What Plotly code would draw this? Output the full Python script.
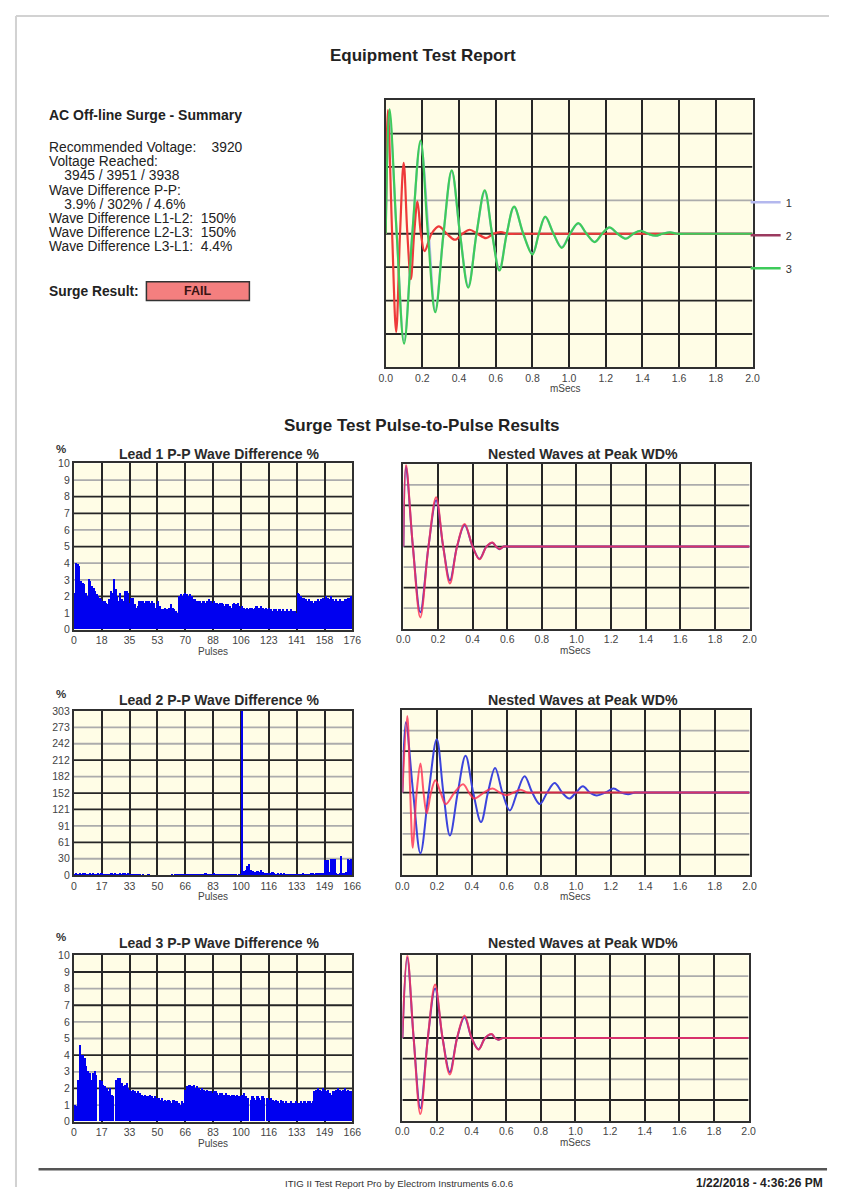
import plotly.graph_objects as go

# The page keeps the browser's default 8px body margin, so the figure is drawn 16px smaller and
# every reference pixel position is converted with that offset.
PAGE_W, PAGE_H = 846, 1201
OFF = 8
W, H = PAGE_W - 2 * OFF, PAGE_H - 2 * OFF
FONT = "Liberation Sans, Arial, sans-serif"

# ---------------- text ----------------
report_title = "Equipment Test Report"
section_title = "Surge Test Pulse-to-Pulse Results"
summary_heading = "AC Off-line Surge - Summary"
summary_lines = [
    "Recommended Voltage:\u00a0\u00a0\u00a0 3920",
    "Voltage Reached:",
    "\u00a0\u00a0\u00a0 3945 / 3951 / 3938",
    "Wave Difference P-P:",
    "\u00a0\u00a0\u00a0 3.9% / 302% / 4.6%",
    "Wave Difference L1-L2:\u00a0 150%",
    "Wave Difference L2-L3:\u00a0 150%",
    "Wave Difference L3-L1:\u00a0 4.4%",
]
result_label = "Surge Result:"
result_value = "FAIL"
footer_text = "ITIG II Test Report Pro by Electrom Instruments 6.0.6"
footer_date = "1/22/2018 - 4:36:26 PM"
lead_titles = ["Lead 1 P-P Wave Difference %", "Lead 2 P-P Wave Difference %", "Lead 3 P-P Wave Difference %"]
nested_title = "Nested Waves at Peak WD%"

# ---------------- top chart: surge waves (mSecs) ----------------
top_names = ["1", "2", "3"]
top_t1 = [0, 0.02, 0.06, 0.10, 0.145, 0.19, 0.235, 0.27, 0.315, 0.36, 0.405, 0.45, 0.495, 0.54, 0.58, 0.62,
          0.66, 0.70, 0.75, 0.80, 0.835, 0.87, 0.915, 0.96, 1.005, 1.05, 1.095, 1.14, 1.18, 1.22, 1.265,
          1.31, 1.35, 1.39, 1.43, 1.47, 1.51, 1.55, 1.59, 1.63, 2.0]
top_v1 = [0, 3.6, 0, -3.2, 0, 2.7, 0, -2.3, 0, 1.85, 0, -1.55, 0, 1.25, 0, -1.05, 0, 0.8, 0, -0.6, 0,
          0.5, 0, -0.4, 0, 0.3, 0, -0.24, 0, 0.18, 0, -0.14, 0, 0.09, 0, -0.06, 0, 0.04, 0, 0, 0]
top_t2 = [0, 0.012, 0.035, 0.057, 0.078, 0.098, 0.118, 0.137, 0.155, 0.173, 0.192, 0.212, 0.25, 0.289,
          0.333, 0.378, 0.418, 0.458, 0.50, 0.547, 0.587, 0.627, 0.67, 0.71, 2.0]
top_v2 = [0, 3.7, 0, -2.94, 0, 2.12, 0, -1.36, 0, 0.96, 0, -0.52, 0, 0.22, 0, -0.18, 0, 0.12, 0,
          -0.13, 0, 0.05, 0, 0, 0]
top_t3 = [0, 0.021, 0.06, 0.10, 0.145, 0.19, 0.23, 0.27, 0.315, 0.36, 0.405, 0.45, 0.495, 0.54, 0.58,
          0.62, 0.66, 0.70, 0.75, 0.80, 0.835, 0.87, 0.915, 0.96, 1.005, 1.05, 1.095, 1.14, 1.18, 1.22,
          1.265, 1.31, 1.35, 1.39, 1.43, 1.47, 1.51, 1.55, 1.59, 1.63, 2.0]
top_v3 = [0, 3.72, 0, -3.29, 0, 2.79, 0, -2.35, 0, 1.9, 0, -1.61, 0, 1.3, 0, -1.1, 0, 0.81, 0, -0.62,
          0, 0.51, 0, -0.42, 0, 0.32, 0, -0.25, 0, 0.19, 0, -0.15, 0, 0.09, 0, -0.06, 0, 0.04, 0, 0, 0]
msec_ticks = ["0.0", "0.2", "0.4", "0.6", "0.8", "1.0", "1.2", "1.4", "1.6", "1.8", "2.0"]

# ---------------- pulse-to-pulse wave difference % ----------------
lead1_wd = [2.2, 4.0, 3.9, 3.8, 2.9, 2.8, 2.7, 2.2, 2.0, 3.0,
            2.9, 2.6, 2.5, 2.3, 2.1, 2.0, 1.9, 1.8, 1.7, 1.7,
            1.6, 1.5, 1.8, 2.3, 2.2, 3.0, 2.4, 2.0, 1.7, 2.2,
            1.8, 1.7, 2.3, 2.3, 2.2, 1.6, 1.9, 1.9, 1.5, 1.3,
            1.4, 1.7, 1.7, 1.7, 1.6, 1.7, 1.7, 1.7, 1.6, 1.7,
            1.6, 1.3, 1.5, 1.7, 1.4, 1.2, 1.2, 1.3, 1.2, 1.2,
            1.3, 1.5, 1.3, 1.2, 1.1, 1.0, 2.0, 2.1, 2.0, 2.1,
            2.2, 2.1, 2.0, 2.1, 2.0, 1.8, 1.8, 1.7, 1.7, 1.7,
            1.6, 1.7, 1.7, 1.6, 1.7, 1.8, 1.7, 1.6, 1.7, 1.6,
            1.6, 1.5, 1.6, 1.6, 1.5, 1.4, 1.5, 1.5, 1.4, 1.3,
            1.5, 1.6, 1.5, 1.6, 1.4, 1.3, 1.4, 1.3, 1.2, 1.3,
            1.2, 1.3, 1.3, 1.2, 1.3, 1.4, 1.3, 1.3, 1.4, 1.3,
            1.2, 1.3, 1.2, 1.3, 1.2, 1.1, 1.2, 1.2, 1.1, 1.2,
            1.2, 1.1, 1.2, 1.1, 1.2, 1.1, 1.1, 1.2, 1.1, 1.1,
            1.0, 2.2, 2.1, 2.0, 1.9, 1.9, 1.8, 1.7, 1.8, 1.7,
            1.7, 1.6, 1.7, 1.7, 1.8, 1.7, 1.8, 1.9, 1.8, 2.0,
            1.9, 1.8, 2.0, 1.8, 1.7, 1.8, 1.7, 1.7, 1.8, 1.7,
            1.7, 1.8, 1.8, 1.9, 1.9, 2.0]
lead2_wd = [1, 4, 3, 4, 3, 4, 4, 3, 3, 4,
            3, 4, 3, 3, 4, 3, 4, 2, 1, 1,
            3, 3, 4, 3, 4, 3, 3, 4, 3, 4,
            4, 3, 4, 3, 3, 2, 3, 2, 3, 1,
            0, 1, 0, 0, 1, 0, 0, 0, 0, 0,
            0, 0, 0, 0, 0, 0, 0, 0, 1, 0,
            2, 3, 3, 2, 3, 3, 2, 3, 3, 2,
            3, 3, 2, 3, 3, 2, 3, 3, 4, 3,
            3, 2, 3, 4, 2, 3, 1, 2, 3, 2,
            1, 2, 3, 1, 2, 1, 2, 0, 1, 1,
            303, 8, 10, 17, 20, 9, 8, 7, 7, 8,
            6, 9, 7, 5, 5, 4, 5, 4, 6, 4,
            3, 4, 3, 5, 3, 4, 3, 3, 2, 3,
            3, 2, 3, 3, 2, 3, 4, 3, 3, 2,
            3, 4, 4, 3, 4, 5, 4, 5, 4, 28,
            29, 28, 6, 31, 30, 31, 4, 3, 4, 35,
            5, 4, 6, 30, 29, 30]
lead3_wd = [1.0, 0.9, 2.5, 4.6, 4.0, 4.0, 3.8, 3.3, 3.0, 2.9,
            2.5, 2.9, 3.0, 2.8, 0.0, 2.5, 2.4, 2.2, 2.1, 2.0,
            1.8, 2.0, 1.6, 1.5, 0.0, 2.5, 2.6, 2.6, 2.3, 2.1,
            2.2, 2.3, 2.0, 1.9, 1.8, 1.9, 1.8, 1.7, 1.8, 1.7,
            1.6, 1.5, 1.6, 1.5, 1.5, 1.6, 1.5, 1.4, 1.5, 1.4,
            1.4, 1.3, 1.4, 1.2, 1.3, 1.2, 1.3, 1.2, 1.1, 1.3,
            1.2, 1.2, 1.1, 1.0, 1.2, 1.1, 1.9, 2.1, 2.2, 2.2,
            2.1, 2.2, 2.0, 2.1, 2.0, 1.9, 2.0, 1.9, 1.8, 1.9,
            1.8, 1.8, 1.7, 1.8, 1.8, 1.7, 1.6, 1.7, 1.7, 1.6,
            1.7, 1.6, 1.6, 1.5, 1.6, 1.6, 1.5, 1.6, 1.5, 1.5,
            1.6, 1.7, 1.5, 1.4, 0.0, 1.3, 1.5, 1.4, 1.3, 1.5,
            1.4, 1.3, 1.5, 1.4, 0.0, 1.4, 1.3, 1.4, 1.3, 1.2,
            1.3, 1.2, 1.1, 1.3, 1.2, 1.1, 1.2, 1.1, 1.1, 1.2,
            1.1, 1.1, 1.2, 1.1, 1.1, 1.2, 1.1, 1.2, 1.1, 1.2,
            1.2, 1.1, 1.2, 1.8, 1.9, 2.0, 1.9, 1.8, 2.0, 1.9,
            1.8, 1.9, 1.7, 1.6, 1.8, 1.8, 1.9, 2.0, 1.9, 1.8,
            1.9, 2.0, 1.8, 1.9, 1.8, 1.8]
lead1_xticks = ["0", "18", "35", "53", "70", "88", "106", "123", "141", "158", "176"]
lead23_xticks = ["0", "17", "33", "50", "66", "83", "100", "116", "133", "149", "166"]
pct_yticks = ["0", "1", "2", "3", "4", "5", "6", "7", "8", "9", "10"]
lead2_yticks = ["0", "30", "61", "91", "121", "152", "182", "212", "242", "273", "303"]
pct_max = 10
lead2_max = 303

# ---------------- nested waves at peak WD% ----------------
nest1_t = [0, 0.015, 0.055, 0.098, 0.145, 0.189, 0.23, 0.269, 0.31, 0.354, 0.40, 0.44, 0.48, 0.515,
           0.535, 0.555, 0.58, 0.62, 2.0]
nest1_blue = [0, 3.9, 0, -3.2, 0, 2.25, 0, -1.65, 0, 1.05, 0, -0.6, 0, 0.19, 0, -0.13, 0, 0, 0]
nest1_red = [0, 4.0, 0, -3.45, 0, 2.4, 0, -1.8, 0, 1.1, 0, -0.62, 0, 0.2, 0, -0.12, 0, 0, 0]
nest2_tb = [0, 0.02, 0.062, 0.104, 0.151, 0.198, 0.236, 0.274, 0.319, 0.364, 0.408, 0.453, 0.493,
            0.534, 0.576, 0.619, 0.661, 0.704, 0.748, 0.792, 0.834, 0.877, 0.92, 0.962, 1.0, 1.04,
            1.08, 1.12, 1.17, 1.217, 1.26, 1.30, 1.34, 1.38, 2.0]
nest2_blue = [0, 3.4, 0, -2.94, 0, 2.58, 0, -2.08, 0, 1.78, 0, -1.43, 0, 1.19, 0, -0.87, 0, 0.79, 0,
              -0.56, 0, 0.46, 0, -0.29, 0, 0.30, 0, -0.14, 0, 0.19, 0, -0.08, 0, 0, 0]
nest2_tr = [0, 0.028, 0.045, 0.06, 0.082, 0.104, 0.122, 0.14, 0.165, 0.19, 0.22, 0.25, 0.30, 0.35,
            0.383, 0.415, 0.47, 0.52, 0.56, 0.60, 0.64, 0.68, 0.72, 0.76, 2.0]
nest2_red = [0, 3.7, 0, -2.67, 0, 1.41, 0, -1.0, 0, 0.59, 0, -0.56, 0, 0.40, 0, -0.29, 0, 0.19, 0,
             -0.13, 0, 0.14, 0, 0, 0]
nest3_t = [0, 0.028, 0.065, 0.104, 0.147, 0.189, 0.232, 0.274, 0.316, 0.359, 0.40, 0.44, 0.478,
           0.516, 0.535, 0.554, 0.58, 0.62, 2.0]
nest3_blue = [0, 3.9, 0, -3.4, 0, 2.4, 0, -1.65, 0, 1.0, 0, -0.55, 0, 0.18, 0, -0.08, 0, 0, 0]
nest3_red = [0, 4.0, 0, -3.68, 0, 2.59, 0, -1.76, 0, 1.09, 0, -0.56, 0, 0.19, 0, -0.08, 0, 0, 0]

# ---------------- styling ----------------
BG = "#fffde6"
GRID_DARK = "#262626"
GRID_LIGHT = "#acacac"
BAR_BLUE = "#0000f0"
WAVE_BLUE = "#3c44dc"
WAVE_RED = "rgba(255,45,80,0.8)"
TOP_COLORS = ["#b4b8ee", "#ee3a3a", "#3ecb5a"]
LEGEND_COLORS = ["#b4b8ee", "#9b3a5f", "#3ecb5a"]

# panel boxes in page pixels: (left, right, top, bottom)
boxes = {
    1: (386, 760, 95, 365),
    2: (68, 352, 462, 630),
    3: (404, 757, 463, 629),
    4: (68, 352, 712, 878),
    5: (403, 757, 711, 878),
    6: (68, 352, 959, 1127),
    7: (403, 756, 959, 1126),
}
# horizontal grid styles (interior lines, bottom to top): d = dark, l = light
hgrid = {
    1: "ddddldd",
    2: "ldlldlddl",
    3: "ldldldl",
    4: "ldlddldll",
    5: "dlldldl",
    6: "ldldlldld",
    7: "dldddll",
}

fig = go.Figure()
layout = dict(width=W, height=H, margin=dict(l=0, r=0, t=0, b=0), paper_bgcolor="white",
              plot_bgcolor=BG, bargap=0, showlegend=True, font=dict(family=FONT, color="#333"))
shapes = []


def fx(p):
    return (p - OFF) / W


def fy(p):
    return 1 - (p - OFF) / H


def setup_axes(i, xr, xtext, yr, ytext):
    l, r, t, b = boxes[i]
    xs = "" if i == 1 else str(i)
    n = len(xtext) - 1
    xvals = [xr[0] + (xr[1] - xr[0]) * k / n for k in range(n + 1)]
    layout["xaxis" + xs] = dict(
        domain=[fx(l), fx(r)], anchor="y" + xs, range=xr, tickvals=xvals, ticktext=xtext,
        showgrid=True, gridcolor=GRID_DARK, gridwidth=1.6, zeroline=False,
        showline=True, mirror=True, linecolor="#303030", linewidth=2, ticks="",
        tickfont=dict(size=10.5, color="#444", family=FONT), fixedrange=True)
    ny = 8 if ytext is None else len(ytext) - 1
    yvals = [yr[0] + (yr[1] - yr[0]) * k / ny for k in range(ny + 1)]
    ya = dict(domain=[fy(b), fy(t)], anchor="x" + xs, range=yr, showgrid=False, zeroline=False,
              showline=True, mirror=True, linecolor="#303030", linewidth=2, ticks="",
              fixedrange=True, tickfont=dict(size=10.5, color="#444", family=FONT))
    if ytext is None:
        ya["showticklabels"] = False
    else:
        ya["tickvals"] = yvals
        ya["ticktext"] = ytext
    layout["yaxis" + xs] = ya
    for k, code in enumerate(hgrid[i]):
        yv = yvals[k + 1]
        shapes.append(dict(type="line", xref="x" + xs, yref="y" + xs, x0=xr[0], x1=xr[1],
                           y0=yv, y1=yv, layer="below",
                           line=dict(color=GRID_DARK if code == "d" else GRID_LIGHT, width=1.8)))


setup_axes(1, [0, 2], msec_ticks, [-4, 4], None)
setup_axes(2, [0, len(lead1_wd)], lead1_xticks, [0, pct_max], pct_yticks)
setup_axes(3, [0, 2], msec_ticks, [-4, 4], None)
setup_axes(4, [0, len(lead2_wd)], lead23_xticks, [0, lead2_max], lead2_yticks)
setup_axes(5, [0, 2], msec_ticks, [-4, 4], None)
setup_axes(6, [0, len(lead3_wd)], lead23_xticks, [0, pct_max], pct_yticks)
setup_axes(7, [0, 2], msec_ticks, [-4, 4], None)

# top chart traces
for k, (t, v) in enumerate([(top_t1, top_v1), (top_t2, top_v2), (top_t3, top_v3)]):
    fig.add_trace(go.Scatter(x=t, y=v, mode="lines", line=dict(color=TOP_COLORS[k], width=2.2,
                                                                shape="spline", smoothing=1.0),
                             xaxis="x", yaxis="y", showlegend=False, hoverinfo="skip"))
for k, nm in enumerate(top_names):
    fig.add_trace(go.Scatter(x=[None], y=[None], mode="lines", name=nm, legendgroup="g" + nm,
                             line=dict(color=LEGEND_COLORS[k], width=2.5), xaxis="x", yaxis="y"))

# bars
for i, vals in [(2, lead1_wd), (4, lead2_wd), (6, lead3_wd)]:
    fig.add_trace(go.Bar(x=list(range(len(vals))), y=vals, width=1, offset=0,
                         marker=dict(color=BAR_BLUE, line=dict(width=0)),
                         xaxis="x" + str(i), yaxis="y" + str(i), showlegend=False, hoverinfo="skip"))

# nested waves
for i, tb, vb, tr, vr in [(3, nest1_t, nest1_blue, nest1_t, nest1_red),
                          (5, nest2_tb, nest2_blue, nest2_tr, nest2_red),
                          (7, nest3_t, nest3_blue, nest3_t, nest3_red)]:
    fig.add_trace(go.Scatter(x=tb, y=vb, mode="lines",
                             line=dict(color=WAVE_BLUE, width=2, shape="spline", smoothing=1.0),
                             xaxis="x" + str(i), yaxis="y" + str(i), showlegend=False, hoverinfo="skip"))
    fig.add_trace(go.Scatter(x=tr, y=vr, mode="lines",
                             line=dict(color=WAVE_RED, width=2, shape="spline", smoothing=1.0),
                             xaxis="x" + str(i), yaxis="y" + str(i), showlegend=False, hoverinfo="skip"))

layout["legend"] = dict(x=fx(753), y=fy(183.5), xanchor="left", yanchor="top", bgcolor="rgba(0,0,0,0)",
                        font=dict(size=11, color="#333", family=FONT), tracegroupgap=14,
                        itemwidth=30, borderwidth=0)

annotations = []


def ann(text, x, y, size=13.5, bold=False, xanchor="left", color="#222"):
    annotations.append(dict(text=("<b>%s</b>" % text) if bold else text, x=fx(x), y=fy(y),
                            xref="paper", yref="paper", xanchor=xanchor, yanchor="middle",
                            showarrow=False, font=dict(size=size, color=color, family=FONT)))


ann(report_title, 424, 50, size=17, bold=True, xanchor="center")
ann(summary_heading, 41, 110, size=14, bold=True)
summary_y = [143, 157.3, 171.6, 185.9, 200.2, 214.5, 228.8, 243.1]
for txt, yy in zip(summary_lines, summary_y):
    ann(txt, 41, yy, size=13.8)
ann(result_label, 41, 288, size=13.8, bold=True)
shapes.append(dict(type="rect", xref="paper", yref="paper", x0=fx(142), x1=fx(247), y0=fy(297.5),
                   y1=fy(278.5), fillcolor="#f47f7f", line=dict(color="#333", width=1.5)))
ann(result_value, 194.5, 288, size=12.5, bold=True, xanchor="center", color="#3a1414")
ann("mSecs", 569, 386, size=10, xanchor="center", color="#444")
ann(section_title, 423, 424, size=17, bold=True, xanchor="center")

for k, (tx, ty) in enumerate([(217, 453), (217, 701), (217, 946)]):
    ann(lead_titles[k], tx, ty, size=14, bold=True, xanchor="center", color="#2a2a2a")
for (tx, ty) in [(587, 453), (587, 701), (587, 947)]:
    ann(nested_title, tx, ty, size=14.2, bold=True, xanchor="center", color="#2a2a2a")
for py in [447, 695, 940]:
    ann("%", 55, py, size=11.5, bold=True, xanchor="center", color="#333")
for (tx, ty) in [(210, 652), (210, 900), (210, 1149)]:
    ann("Pulses", tx, ty, size=10, xanchor="center", color="#444")
for (tx, ty) in [(580, 651), (580, 900), (580, 1148)]:
    ann("mSecs", tx, ty, size=10, xanchor="center", color="#444")

# page edges and footer rule
shapes.append(dict(type="line", xref="paper", yref="paper", x0=fx(9), x1=1, y0=fy(10), y1=fy(10),
                   line=dict(color="#d2d2d2", width=2)))
shapes.append(dict(type="line", xref="paper", yref="paper", x0=fx(9), x1=fx(9), y0=fy(10), y1=0,
                   line=dict(color="#d2d2d2", width=2)))
shapes.append(dict(type="line", xref="paper", yref="paper", x0=fx(32), x1=fx(836), y0=fy(1175),
                   y1=fy(1175), line=dict(color="#555", width=2.5)))
ann(footer_text, 400, 1189, size=9.7, xanchor="center", color="#333")
ann(footer_date, 834, 1189, size=12, bold=True, xanchor="right", color="#222")

layout["shapes"] = shapes
layout["annotations"] = annotations
fig.update_layout(**layout)

fig.write_html("out.html", config={"displayModeBar": False})
